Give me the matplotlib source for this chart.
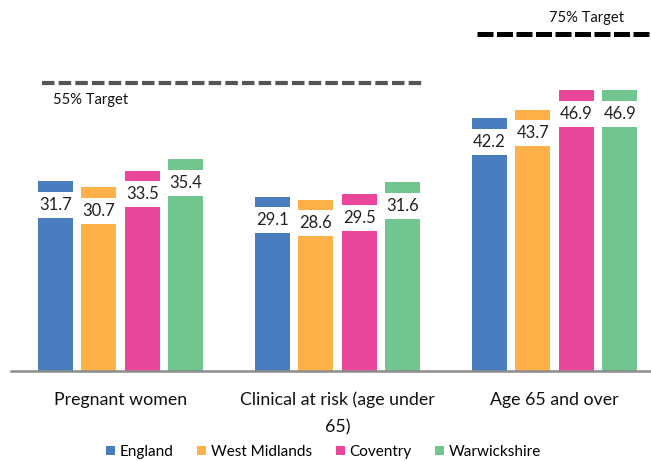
import matplotlib
matplotlib.use("Agg")
import matplotlib.pyplot as plt
import numpy as np

plt.rcParams['font.family'] = ['Lato', 'DejaVu Sans']

categories = ["Pregnant women", "Clinical at risk (age under\n65)", "Age 65 and over"]
series_names = ["England", "West Midlands", "Coventry", "Warwickshire"]
england = [31.7, 29.1, 42.2]
west_midlands = [30.7, 28.6, 43.7]
coventry = [33.5, 29.5, 46.9]
warwickshire = [35.4, 31.6, 46.9]
targets = [55, 75]
target_labels = ["55% Target", "75% Target"]

colors = ["#4A7DBF", "#FDB148", "#E9459A", "#71C58F"]
values = [england, west_midlands, coventry, warwickshire]

W, H = 651, 461
fig = plt.figure(figsize=(W / 100, H / 100), dpi=100)
ax = fig.add_axes([11 / W, (H - 371) / H, 640 / W, 371 / H])

x = np.arange(len(categories))
step = 0.2
width = 0.161
for i, (name, vals, col) in enumerate(zip(series_names, values, colors)):
    pos = x + (i - 1.5) * step
    bars = ax.bar(pos, vals, width=width, color=col, label=name, zorder=2)
    for p, v in zip(pos, vals):
        ax.annotate(f"{v:.1f}", xy=(p, v), xytext=(0, -17), textcoords="offset points",
                    ha="center", va="center", fontsize=12, color="#222222",
                    bbox=dict(boxstyle="square,pad=0.3", facecolor="white", edgecolor="none"),
                    zorder=3)

ax.set_xlim(-0.505, 2.444)
ax.set_ylim(0, 62.0)
for s in ["top", "right", "left"]:
    ax.spines[s].set_visible(False)
ax.spines["bottom"].set_color("#8c8c8c")
ax.spines["bottom"].set_linewidth(1.8)
ax.set_yticks([])
ax.set_xticks(x)
ax.set_xticklabels(categories, fontsize=12.8, color="#111111", linespacing=1.85)
ax.tick_params(axis="x", length=0, pad=15)

# Target lines (decorative, not on the bar scale)
ax.plot([0.048, 0.647], [0.776, 0.776], transform=ax.transAxes, color="#555555",
        lw=3.0, linestyle=(0, (3.0, 1.0)), clip_on=False, dash_capstyle="butt")
ax.text(0.066, 0.730, target_labels[0], transform=ax.transAxes, fontsize=10.6,
        color="#111111", va="center", ha="left")
ax.plot([0.728, 1.0], [0.908, 0.908], transform=ax.transAxes, color="#000000",
        lw=3.6, linestyle=(0, (3.2, 0.7)), clip_on=False, dash_capstyle="butt")
ax.text(0.841, 0.951, target_labels[1], transform=ax.transAxes, fontsize=10.6,
        color="#111111", va="center", ha="left")

leg = fig.legend(loc="center", bbox_to_anchor=(0.497, (H - 452) / H), ncol=4, frameon=False,
                 fontsize=11, handlelength=0.6, handleheight=0.6, handletextpad=0.3,
                 columnspacing=1.55)

fig.savefig("out.png", dpi=100)
